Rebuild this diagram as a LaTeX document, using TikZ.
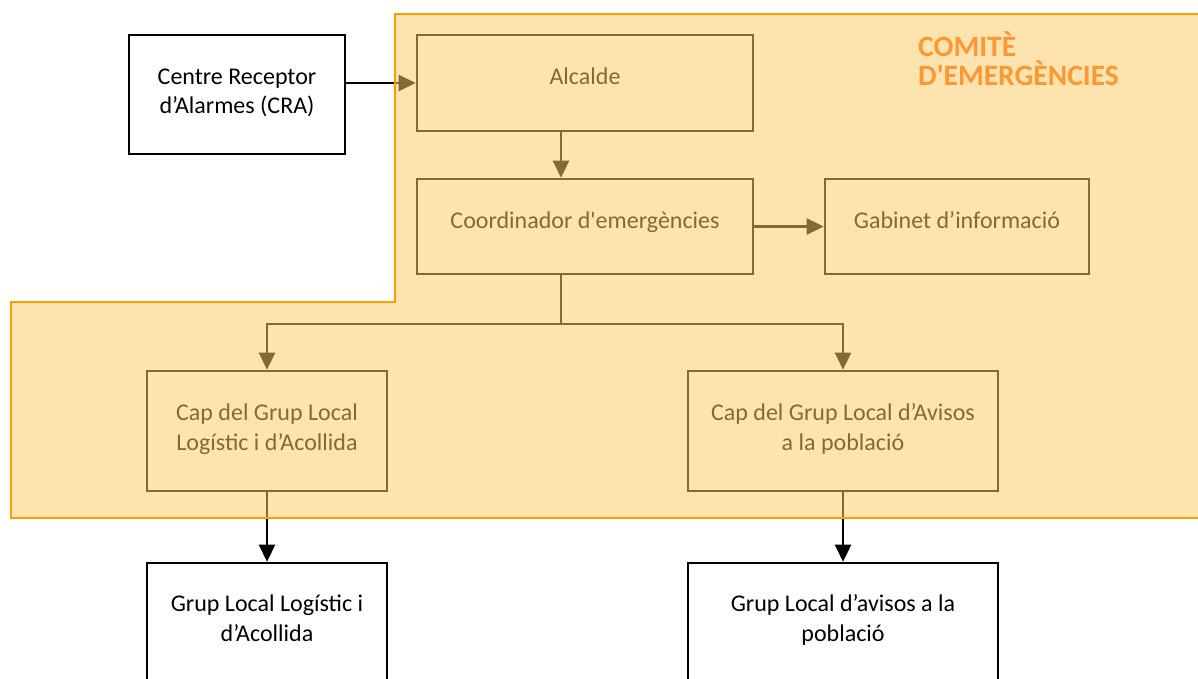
\documentclass[tikz,border=0pt]{standalone}
\usepackage{fontspec}
\setmainfont{Carlito}
\usetikzlibrary{arrows.meta,calc}
\definecolor{veil}{RGB}{252,203,100}
\definecolor{regborder}{RGB}{255,157,0}
\definecolor{titleorange}{RGB}{253,152,52}
\begin{document}
\begin{tikzpicture}[x=1pt,y=-1pt,
  box/.style={draw=black, line width=2.6pt, rectangle, inner sep=0pt, align=center,
    font=\fontsize{24}{29.5}\selectfont},
  whitebox/.style={box, fill=white},
  oneline/.style={text height=16pt, text depth=12pt},
  twoline/.style={text height=45.5pt, text depth=7pt},
  conn/.style={line width=2.6pt, -{Triangle[length=17pt,width=16pt]}},
  wire/.style={line width=2.6pt},
  region/.style={fill=veil, fill opacity=0.52, draw=none},
  regionedge/.style={draw=regborder, line width=2.4pt},
  title/.style={text=titleorange, font=\fontsize{29.5}{29}\selectfont\bfseries, align=left, inner sep=0pt}]
\useasboundingbox (0,0) rectangle (1198,679);
\fill[white] (0,0) rectangle (1198,679);

% boxes
\node[whitebox, twoline, minimum width=216pt, minimum height=119pt] (cra) at (237,94.5) {Centre Receptor\\d’Alarmes (CRA)};
\node[box, oneline, minimum width=336pt, minimum height=96pt] (alc) at (585,83) {Alcalde};
\node[box, oneline, minimum width=336pt, minimum height=95pt] (coord) at (585,226.5) {Coordinador d\textquotesingle emergències};
\node[box, oneline, minimum width=264pt, minimum height=95pt] (gab) at (957,226.5) {Gabinet d’informació};
\node[box, twoline, minimum width=240pt, minimum height=120pt] (capl) at (267,431) {Cap del Grup Local\\Logístic i d’Acollida};
\node[box, twoline, minimum width=310pt, minimum height=120pt] (capa) at (843,431) {Cap del Grup Local d’Avisos\\a la població};
\node[whitebox, twoline, minimum width=240pt, minimum height=118pt] (grl) at (267,622) {Grup Local Logístic i\\d’Acollida};
\node[whitebox, twoline, minimum width=310pt, minimum height=118pt] (gra) at (843,622) {Grup Local d’avisos a la\\població};

% connectors
\draw[conn] (alc.west -| cra.east) -- (alc.west);
\draw[conn] ([xshift=-24pt]alc.south) -- ([xshift=-24pt]coord.north);
\draw[conn] (coord.east) -- (gab.west);
\coordinate (split) at ($(coord.south)+(-24,48.5)$);
\draw[wire] ([xshift=-24pt]coord.south) -- (split);
\draw[conn] (split) -| (capl.north);
\draw[conn] (split) -| (capa.north);
\draw[conn] (capl.south) -- (grl.north);
\draw[conn] (capa.south) -- (gra.north);

% committee region (translucent veil over the black drawing)
\path[region] (395,14) -- (1199,14) -- (1199,518) -- (11,518) -- (11,302) -- (395,302) -- cycle;
\draw[regionedge] (395,14) -- (1199,14) -- (1199,518) -- (11,518) -- (11,302) -- (395,302) -- cycle;
\node[title, anchor=base west] (comite) at (918,86) {COMITÈ\\D\textquotesingle EMERGÈNCIES};
\end{tikzpicture}
\end{document}
